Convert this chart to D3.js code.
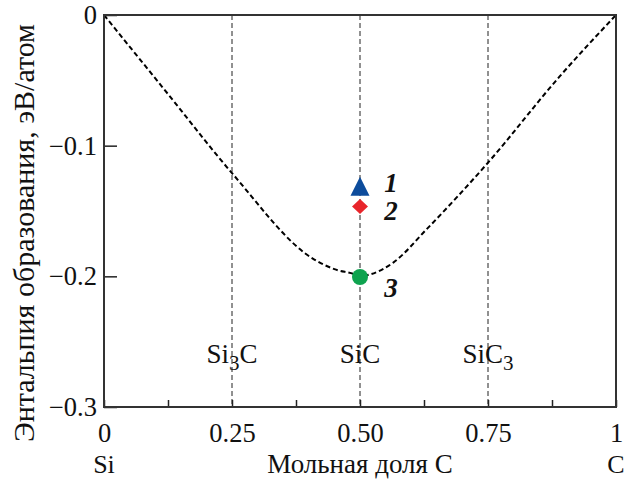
<!DOCTYPE html>
<html><head><meta charset="utf-8">
<script src="https://cdn.jsdelivr.net/npm/d3@7"></script>
</head><body style="margin:0"><svg id="c" width="627" height="480" font-family="Liberation Serif"></svg>
<script>
const curveX = [0, 0.125, 0.25, 0.41, 0.45, 0.49, 0.5, 0.52, 0.565, 0.63, 0.75, 0.89, 1];
const curveY = [0, -0.0605, -0.121, -0.187, -0.1945, -0.1985, -0.200, -0.1985, -0.1895, -0.164, -0.113, -0.047, 0];
const compX = [0.25, 0.5, 0.75];
const compNames = [["Si","3","C"], ["SiC","",""], ["SiC","3",""]];
const pointX = [0.5, 0.5, 0.5];
const pointY = [-0.1315, -0.1465, -0.2005];
const pointLabels = ["1", "2", "3"];
const pointLabelY = [-0.1295, -0.1505, -0.2095];
const xTicks = [0, 0.25, 0.5, 0.75, 1];
const xTickLabels = ["0", "0.25", "0.50", "0.75", "1"];
const xMinor = [0.125, 0.375, 0.625, 0.875];
const yTicks = [0, -0.1, -0.2, -0.3];
const yTickLabels = ["0", "\u22120.1", "\u22120.2", "\u22120.3"];

const svg = d3.select("#c");
const L = 104, R = 616, T = 15, B = 407;
const x = d3.scaleLinear().domain([0, 1]).range([L, R]);
const y = d3.scaleLinear().domain([0, -0.3]).range([T, B]);
const fs = 26.5;

svg.selectAll("line.comp").data(compX).join("line")
  .attr("x1", d => x(d)).attr("x2", d => x(d)).attr("y1", T).attr("y2", B)
  .attr("stroke", "#222").attr("stroke-width", 1).attr("stroke-dasharray", "5,3");

compNames.forEach((parts, i) => {
  const t = svg.append("text").attr("x", x(compX[i])).attr("y", 363)
    .attr("text-anchor", "middle").attr("font-size", 27);
  t.append("tspan").text(parts[0]);
  if (parts[1]) t.append("tspan").attr("font-size", 21).attr("dy", 7).text(parts[1]);
  if (parts[2]) t.append("tspan").attr("dy", -7).text(parts[2]);
});

const line = d3.line().x((d, i) => x(curveX[i])).y(d => y(d)).curve(d3.curveMonotoneX);
svg.append("path").attr("d", line(curveY)).attr("fill", "none")
  .attr("stroke", "#000").attr("stroke-width", 2).attr("stroke-dasharray", "5,3");

const xAxis = d3.axisBottom(x).tickValues(xTicks).tickFormat((d, i) => xTickLabels[i])
  .tickSizeInner(-7).tickSizeOuter(0).tickPadding(16);
const gx = svg.append("g").attr("transform", `translate(0,${B})`).call(xAxis);
const gxm = svg.append("g").attr("transform", `translate(0,${B})`)
  .call(d3.axisBottom(x).tickValues(xMinor).tickFormat("").tickSizeInner(-7).tickSizeOuter(0));
const yAxis = d3.axisLeft(y).tickValues(yTicks).tickFormat((d, i) => yTickLabels[i])
  .tickSizeInner(-13).tickSizeOuter(0).tickPadding(7);
const gy = svg.append("g").attr("transform", `translate(${L},0)`).call(yAxis);
[gx, gxm, gy].forEach(g => {
  g.attr("font-size", fs).attr("font-family", "Liberation Serif");
  g.select(".domain").remove();
  g.selectAll("line").attr("stroke", "#222").attr("stroke-width", 1.5);
});

svg.append("rect").attr("x", L).attr("y", T).attr("width", R - L).attr("height", B - T)
  .attr("fill", "none").attr("stroke", "#333").attr("stroke-width", 2);

const px = x(pointX[0]);
svg.append("path").attr("d", `M${px},${y(pointY[0]) - 10}L${px + 9.5},${y(pointY[0]) + 9}L${px - 9.5},${y(pointY[0]) + 9}Z`)
  .attr("fill", "#0d4c9c");
svg.append("path").attr("d", `M${px},${y(pointY[1]) - 7.5}L${px + 8},${y(pointY[1])}L${px},${y(pointY[1]) + 7.5}L${px - 8},${y(pointY[1])}Z`)
  .attr("fill", "#e8252b");
svg.append("circle").attr("cx", x(pointX[2])).attr("cy", y(pointY[2])).attr("r", 8).attr("fill", "#0ea34f");

svg.selectAll("text.pl").data(pointLabels).join("text").attr("class", "pl")
  .attr("x", 391).attr("y", (d, i) => y(pointLabelY[i]) + 8)
  .attr("text-anchor", "middle").attr("font-size", 27).attr("font-weight", "bold").attr("font-style", "italic")
  .text(d => d);

svg.append("text").attr("x", x(0.5)).attr("y", 473).attr("text-anchor", "middle").attr("font-size", 27).text("Мольная доля C");
svg.append("text").attr("x", x(0)).attr("y", 473).attr("text-anchor", "middle").attr("font-size", 26).text("Si");
svg.append("text").attr("x", x(1)).attr("y", 473).attr("text-anchor", "middle").attr("font-size", 26).text("C");
svg.append("text").attr("transform", `translate(34,233) rotate(-90)`)
  .attr("text-anchor", "middle").attr("font-size", 30).text("Энтальпия образования, эВ/атом");

svg.selectAll("text").attr("font-family", "Liberation Serif").style("font-family", "'Liberation Serif'").attr("fill", "#111");
</script></body></html>
